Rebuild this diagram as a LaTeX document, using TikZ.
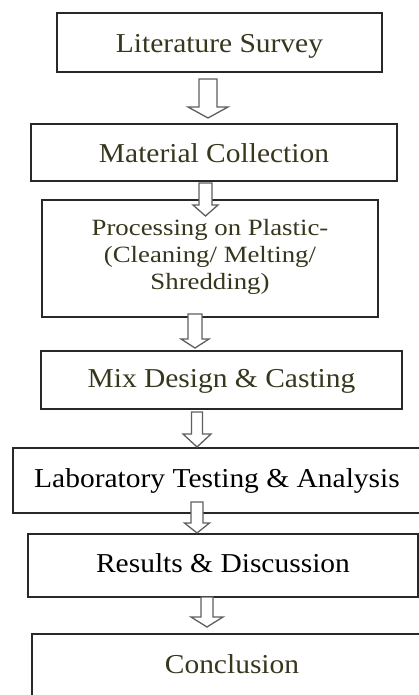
\documentclass[tikz,border=0pt]{standalone}
\usepackage{fontspec}
\setmainfont{Liberation Serif}
\newfontfamily\stepfont[FakeStretch=1.08]{Liberation Serif}
\newfontfamily\widestepfont[FakeStretch=1.15]{Liberation Serif}
\usetikzlibrary{calc}
\definecolor{olivetext}{RGB}{55,55,30}
\definecolor{boxline}{RGB}{40,40,40}
\definecolor{arrowline}{RGB}{95,95,95}

% hollow block arrow between two named points:
% #1 start, #2 tip, #3 shaft half width, #4 head half width, #5 head length
\newcommand\blockarrow[5]{%
  \draw[hollowarrow] let \p1=(#1), \p2=(#2) in
    (\x1-#3,\y1) -- (\x1+#3,\y1) -- (\x1+#3,\y2+#5) -- (\x1+#4,\y2+#5)
    -- (\x2,\y2) -- (\x1-#4,\y2+#5) -- (\x1-#3,\y2+#5) -- cycle;}

\begin{document}
\begin{tikzpicture}[x=1pt,y=-1pt,
  stepbox/.style={draw=boxline, line width=1.5pt, fill=white, inner sep=0pt,
    font=\stepfont\fontsize{27.3}{33}\selectfont, text height=19.5pt, text depth=0pt},
  hollowarrow/.style={draw=arrowline, line width=1.3pt, fill=white, line join=miter}]
\useasboundingbox (0,0) rectangle (419,695);

% process steps
\node[stepbox, text=olivetext, minimum width=325pt, minimum height=59pt]
  (b1) at (219.5,42.5) {Literature Survey};
\node[stepbox, text=olivetext, minimum width=366pt, minimum height=57pt]
  (b2) at (214,152.5) {Material Collection};
\node[stepbox, text=olivetext, minimum width=336pt, minimum height=117pt,
  align=center, font=\widestepfont\fontsize{23.3}{27}\selectfont,
  text height=70pt, text depth=9pt]
  (b3) at (210,258.5) {Processing on Plastic-\\(Cleaning/ Melting/\\Shredding)};
\node[stepbox, text=olivetext, minimum width=361pt, minimum height=58pt, text depth=5pt]
  (b4) at (221.5,380) {Mix Design \& Casting};
\node[stepbox, text=black, minimum width=408pt, minimum height=65pt, text depth=6pt]
  (b5) at (217,480.5) {Laboratory Testing \& Analysis};
\node[stepbox, text=black, minimum width=390pt, minimum height=63pt, text depth=6pt]
  (b6) at (223,565.5) {Results \& Discussion};
\node[stepbox, text=olivetext, minimum width=400pt, minimum height=66pt, text depth=7pt]
  (b7) at (232,667) {Conclusion};

% arrow end points
\coordinate (a1s) at (208,79);   \coordinate (a1e) at (208,118);
\coordinate (a2s) at (205.5,183); \coordinate (a2e) at (205.5,216);
\coordinate (a3s) at (195,314);  \coordinate (a3e) at (195,348);
\coordinate (a4s) at (197,412);  \coordinate (a4e) at (197,447);
\coordinate (a5s) at (197,502);  \coordinate (a5e) at (197,533);
\coordinate (a6s) at (207,597);  \coordinate (a6e) at (207,627);

\blockarrow{a1s}{a1e}{9pt}{20pt}{11pt}
\blockarrow{a2s}{a2e}{6.5pt}{12.5pt}{11pt}
\blockarrow{a3s}{a3e}{7pt}{14pt}{9pt}
\blockarrow{a4s}{a4e}{5.5pt}{14pt}{13pt}
\blockarrow{a5s}{a5e}{6pt}{12.5pt}{10pt}
\blockarrow{a6s}{a6e}{6pt}{16pt}{10pt}
\end{tikzpicture}
\end{document}
